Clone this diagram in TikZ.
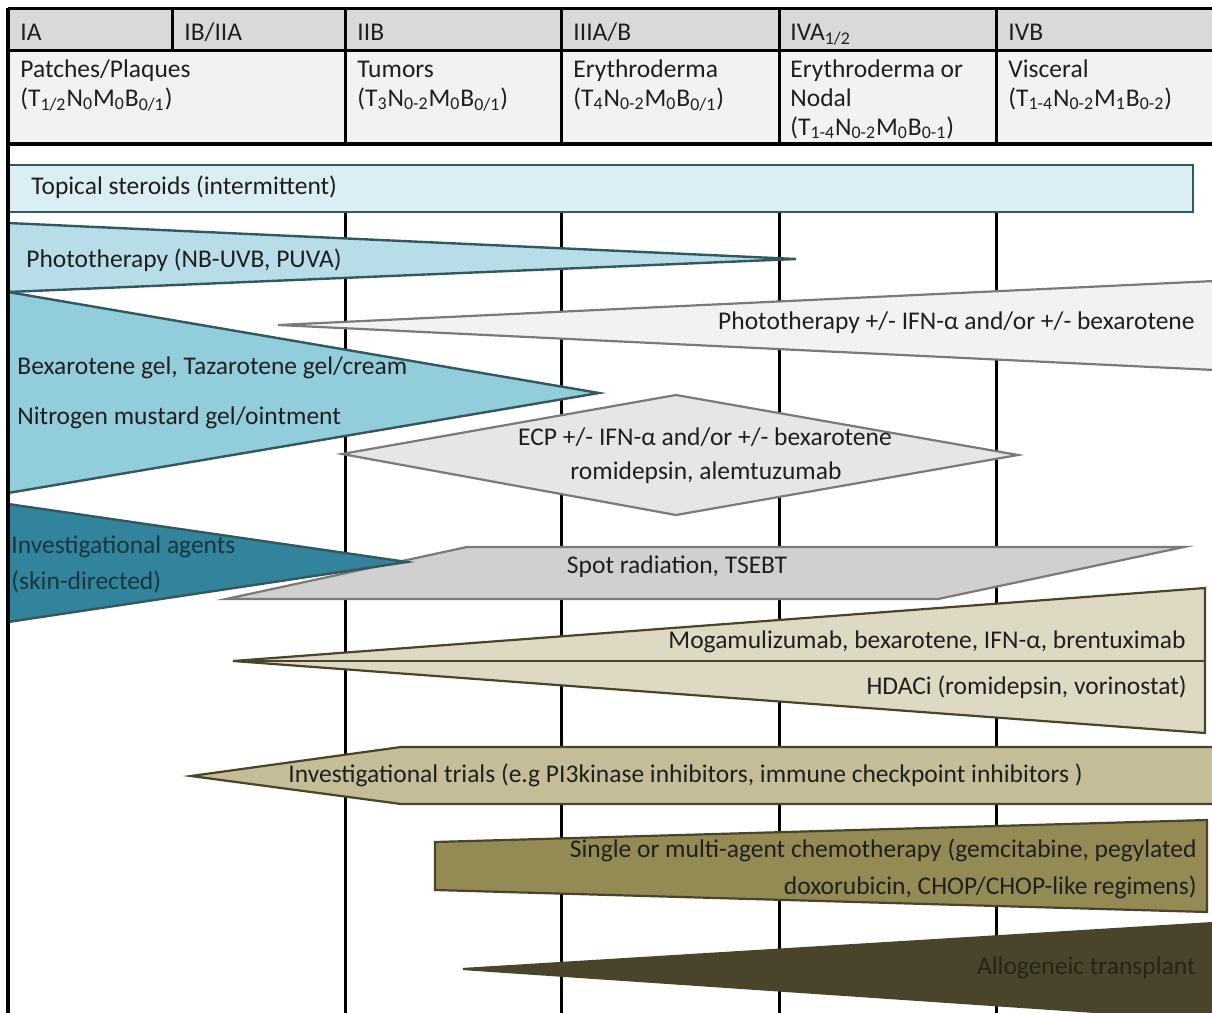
\documentclass[tikz,border=0pt]{standalone}
\usepackage{fontspec}
\setmainfont{Carlito}
\usepackage{tikz}
\definecolor{hdrgray}{HTML}{D9D9D9}
\definecolor{hdrlight}{HTML}{F2F2F2}
\definecolor{tealedge}{HTML}{31595F}
\definecolor{steroidblue}{HTML}{DAEEF3}
\definecolor{photoblue}{HTML}{B7DDE8}
\definecolor{gelblue}{HTML}{92CDDC}
\definecolor{agentteal}{HTML}{31849B}
\definecolor{agenttext}{HTML}{17363E}
\definecolor{greyedge}{HTML}{7A7A7A}
\definecolor{lightgrey}{HTML}{F2F2F2}
\definecolor{ecpgrey}{HTML}{E6E6E6}
\definecolor{spotgrey}{HTML}{D0D0D0}
\definecolor{oliveedge}{HTML}{4A452A}
\definecolor{tanlight}{HTML}{DDD9C3}
\definecolor{tanmid}{HTML}{C4BD97}
\definecolor{olive}{HTML}{948A54}
\definecolor{olivedark}{HTML}{4A452A}
\definecolor{allotext}{HTML}{26231A}
\tikzstyle{every node}=[inner sep=0pt,font=\fontsize{12.75}{15}\selectfont,text=black!88]
\tikzstyle{hdr}=[anchor=base west]
\tikzstyle{lft}=[anchor=west]
\tikzstyle{rgt}=[anchor=east]
\tikzstyle{stage}=[line width=1.5pt]
\tikzstyle{tealbar}=[draw=tealedge,line width=1.2pt]
\tikzstyle{greybar}=[draw=greyedge,line width=1.1pt]
\tikzstyle{olivebar}=[draw=oliveedge,line width=1.1pt]

\begin{document}
\begin{tikzpicture}[x=0.5pt,y=-0.5pt]
\useasboundingbox (0,0) rectangle (1212,1013);
\clip (0,0) rectangle (1212,1013);
\fill[white] (0,0) rectangle (1212,1013);
\fill[hdrgray] (8,8) rectangle (1212,50);
\fill[hdrlight] (8,50) rectangle (1212,143);
\foreach \x in {345,561,779,996} \draw[stage] (\x,8) -- (\x,143);
\foreach \x in {345,561,779,996} \draw[stage] (\x,170) -- (\x,1013);
\draw[stage] (172,8) -- (172,50);

\filldraw[tealbar,fill=steroidblue] (8,165) rectangle (1193,212);
\filldraw[tealbar,fill=photoblue] (8,223) -- (796,259) -- (8,292) -- cycle;
\filldraw[tealbar,fill=gelblue] (8,292) -- (599,393) -- (8,493) -- cycle;
\filldraw[greybar,fill=lightgrey] (278,325) -- (1214,281) -- (1214,370) -- cycle;
\filldraw[greybar,fill=ecpgrey] (342,454) -- (676,395) -- (1018,455) -- (676,515) -- cycle;
\filldraw[greybar,fill=spotgrey] (226,599) -- (467,547) -- (1184,547) -- (938,599) -- cycle;
\filldraw[tealbar,fill=agentteal] (8,504) -- (407,562) -- (8,622) -- cycle;
\filldraw[olivebar,fill=tanlight] (233,661) -- (1205,588) -- (1205,733) -- cycle;
\draw[olivebar] (233,661) -- (1205,661);
\filldraw[olivebar,fill=tanmid] (191,776) -- (401,747) -- (1214,747) -- (1214,804) -- (401,804) -- cycle;
\filldraw[olivebar,fill=olive] (435,842) -- (1207,820) -- (1207,912) -- (435,890) -- cycle;
\filldraw[olivebar,fill=olivedark] (463,969) -- (1214,923) -- (1214,1020) -- cycle;

\node[hdr] (ia) at (20,40) {IA};
\node[hdr] (ibiia) at (184,40) {IB/IIA};
\node[hdr] (iib) at (357,40) {IIB};
\node[hdr] (iiiab) at (573,40) {IIIA/B};
\node[hdr] (iva) at (790,40) {IVA\textsubscript{1/2}};
\node[hdr] (ivb) at (1008,40) {IVB};
\node[hdr] (patch) at (20,77) {Patches/Plaques};
\node[hdr] (patchtnm) at (20,106) {(T\textsubscript{1/2}N\textsubscript{0}M\textsubscript{0}B\textsubscript{0/1})};
\node[hdr] (tumor) at (357,77) {Tumors};
\node[hdr] (tumortnm) at (357,106) {(T\textsubscript{3}N\textsubscript{0-2}M\textsubscript{0}B\textsubscript{0/1})};
\node[hdr] (eryth) at (573,77) {Erythroderma};
\node[hdr] (erythtnm) at (573,106) {(T\textsubscript{4}N\textsubscript{0-2}M\textsubscript{0}B\textsubscript{0/1})};
\node[hdr] (nodal) at (790,77) {Erythroderma or};
\node[hdr] (nodal2) at (790,106) {Nodal};
\node[hdr] (nodaltnm) at (790,135) {(T\textsubscript{1-4}N\textsubscript{0-2}M\textsubscript{0}B\textsubscript{0-1})};
\node[hdr] (visc) at (1008,77) {Visceral};
\node[hdr] (visctnm) at (1008,106) {(T\textsubscript{1-4}N\textsubscript{0-2}M\textsubscript{1}B\textsubscript{0-2})};

\node[lft] (steroids) at (31,187) {Topical steroids (intermittent)};
\node[lft] (photo) at (26,260) {Phototherapy (NB-UVB, PUVA)};
\node[lft] (gel) at (17,368) {Bexarotene gel, Tazarotene gel/cream};
\node[lft] (mustard) at (17,418) {Nitrogen mustard gel/ointment};
\node[rgt] (photoifn) at (1195,323) {Phototherapy +/- IFN-α and/or +/- bexarotene};
\node (ecp) at (705,437) {ECP +/- IFN-α and/or +/- bexarotene};
\node (romi) at (706,473) {romidepsin, alemtuzumab};
\node[lft,text=agenttext] (agents) at (11,547) {Investigational agents};
\node[lft,text=agenttext] (skin) at (11,582) {(skin-directed)};
\node (spot) at (677,567) {Spot radiation, TSEBT};
\node[rgt] (moga) at (1186,642) {Mogamulizumab, bexarotene, IFN-α, brentuximab};
\node[rgt] (hdac) at (1187,687) {HDACi (romidepsin, vorinostat)};
\node[lft] (trials) at (288,775) {Investigational trials (e.g PI3kinase inhibitors, immune checkpoint inhibitors )};
\node[rgt] (chemo) at (1197,850) {Single or multi-agent chemotherapy (gemcitabine, pegylated};
\node[rgt] (doxo) at (1197,887) {doxorubicin, CHOP/CHOP-like regimens)};
\node[rgt,text=allotext] (allo) at (1196,968) {Allogeneic transplant};

\draw[stage] (8,8) -- (1212,8);
\draw[stage] (8,50) -- (1212,50);
\draw[line width=1.8pt] (8,144) -- (1212,144);
\draw[line width=2pt] (8,8) -- (8,1013);
\end{tikzpicture}
\end{document}
